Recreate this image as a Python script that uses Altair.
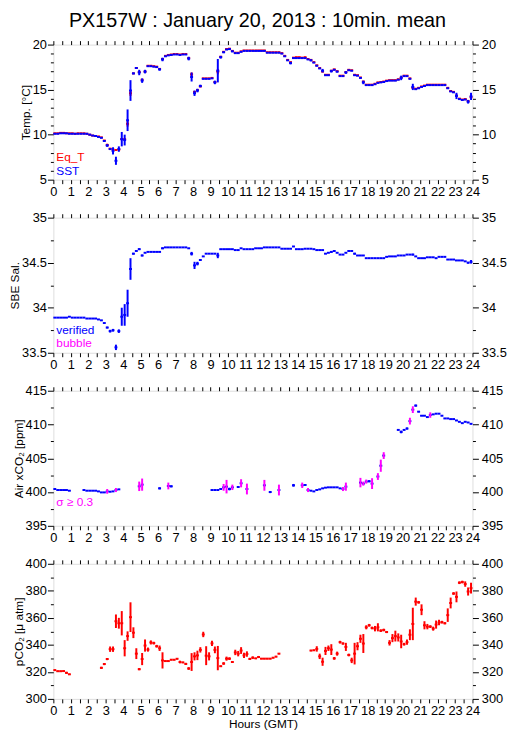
import altair as alt
import pandas as pd

TITLE = "PX157W : January 20, 2013 : 10min. mean"
FONT = "Liberation Sans"
RED, BLUE, MAGENTA = "#ff0000", "#0000ff", "#ff00ff"

# 10-minute bins, 6 per hour, 144 per day (None = no data)
eq_t = [
    10.15, 10.15, 10.2, 10.2, 10.15, 10.15,
    10.15, 10.1, 10.15, 10.15, 10.15, 10.1,
    10.0, 9.9, 9.85, 9.8, 9.7, 9.35,
    8.85, 8.45, 8.35, 8.3, 8.35, 9.5,
    9.5, 11.2, 14.6, 16.8, 17.4, 16.95,
    16.1, 17.0, 17.65, 17.65, 17.6, 17.55,
    17.3, 18.4, 18.75, 18.85, 18.9, 18.95,
    18.95, 18.9, 18.95, 18.95, 18.5, 16.7,
    14.75, 14.95, 15.35, 16.25, 16.25, 16.25,
    16.3, 15.85, 17.0, 18.65, 19.2, 19.5,
    19.55, 19.3, 19.1, 19.1, 19.25, 19.35,
    19.35, 19.35, 19.35, 19.35, 19.35, 19.35,
    19.35, 19.15, 19.15, 19.15, 19.15, 19.15,
    19.05, 18.75, 18.3, 18.05, 18.55, 18.6,
    18.6, 18.55, 18.6, 18.4, 18.3, 18.05,
    17.7, 17.4, 17.0, 16.65, 16.65, 17.1,
    17.25, 17.05, 16.55, 16.55, 16.95, 17.2,
    17.15, 16.65, 16.6, 16.35, 15.9, 15.55,
    15.55, 15.55, 15.65, 15.8, 15.85, 15.9,
    16.0, 16.05, 16.05, 16.05, 16.15, 16.35,
    16.55, 16.55, 16.25, 15.2, 15.1, 15.2,
    15.35, 15.45, 15.55, 15.55, 15.55, 15.55,
    15.55, 15.55, 15.55, 15.2, 14.85, 14.75,
    14.35, 14.0, 13.9, 13.95, 13.75, 14.15,
]
eq_t_err_bins = [18, 25, 26, 47, 56]
eq_t_err_vals = [0.15, 0.3, 0.3, 0.2, 0.3]

sst = [
    10.1, 10.1, 10.15, 10.15, 10.15, 10.1,
    10.1, 10.1, 10.1, 10.1, 10.1, 10.1,
    10.0, 9.9, 9.85, 9.75, 9.65, 9.3,
    8.8, 8.4, 8.2, 7.1, 8.4, 9.5,
    9.4, 11.6, 14.9, 16.8, 17.4, 16.9,
    16.0, 17.0, 17.6, 17.6, 17.55, 17.5,
    17.25, 18.35, 18.7, 18.8, 18.85, 18.9,
    18.9, 18.85, 18.9, 18.9, 18.45, 16.4,
    14.6, 14.9, 15.4, 16.2, 16.2, 16.2,
    16.25, 15.8, 17.1, 18.6, 19.15, 19.45,
    19.5, 19.25, 19.05, 19.05, 19.2, 19.3,
    19.3, 19.3, 19.3, 19.3, 19.3, 19.3,
    19.3, 19.1, 19.1, 19.1, 19.1, 19.1,
    19.0, 18.7, 18.25, 17.95, 18.5, 18.5,
    18.5, 18.5, 18.5, 18.35, 18.25, 18.0,
    17.65, 17.35, 17.1, 16.6, 16.6, 17.05,
    17.2, 17.0, 16.5, 16.5, 16.9, 17.15,
    17.1, 16.6, 16.55, 16.3, 15.8, 15.5,
    15.5, 15.5, 15.6, 15.75, 15.8, 15.85,
    15.95, 16.0, 16.0, 16.0, 16.1, 16.3,
    16.5, 16.5, 16.2, 15.3, 15.05, 15.15,
    15.3, 15.4, 15.5, 15.5, 15.5, 15.5,
    15.5, 15.5, 15.5, 15.15, 14.8, 14.7,
    14.3, 13.95, 13.85, 13.9, 13.65, 14.25,
]
sst_err_bins = [18, 20, 21, 22, 23, 24, 25, 26, 27, 29, 30, 31, 36, 37, 46, 47, 48, 49, 50,
                55, 56, 57, 58, 61, 81, 88, 92, 95, 97, 100, 106, 113, 119, 123, 138, 142, 143]
sst_err_vals = [0.15, 0.4, 0.45, 0.3, 0.8, 0.6, 1.2, 1.15, 0.1, 0.3, 0.25, 0.2, 0.15, 0.2, 0.2, 0.5, 0.3, 0.2, 0.15,
                0.2, 1.3, 0.15, 0.1, 0.1, 0.15, 0.1, 0.2, 0.15, 0.1, 0.15, 0.2, 0.1, 0.25, 0.35, 0.35, 0.2, 0.4]

sal = [
    33.89, 33.89, 33.89, 33.89, 33.89, 33.9,
    33.89, 33.89, 33.89, 33.89, 33.89, 33.88,
    33.88, 33.88, 33.88, 33.87, 33.86, 33.83,
    33.78, 33.74, 33.75, 33.56, 33.74, 33.9,
    33.92, 34.05, 34.43, 34.6, 34.63, 34.65,
    34.58, 34.61, 34.62, 34.62, 34.62, 34.62,
    34.62, 34.66, 34.67, 34.67, 34.67, 34.67,
    34.67, 34.67, 34.67, 34.67, 34.66, 34.6,
    34.47, 34.49, 34.53, 34.57, 34.6, 34.6,
    34.6, 34.6, 34.58, 34.65, 34.65, 34.65,
    34.65, 34.65, 34.64, 34.64, 34.66, 34.65,
    34.65, 34.65, 34.65, 34.66, 34.66, 34.66,
    34.67, 34.67, 34.67, 34.67, 34.67, 34.67,
    34.655, 34.655, 34.655, 34.655, 34.68, 34.65,
    34.65, 34.65, 34.655, 34.655, 34.655, 34.65,
    34.64, 34.64, 34.64, 34.6, 34.61, 34.62,
    34.63, 34.61, 34.59, 34.59, 34.61, 34.63,
    34.63, 34.6, 34.58, 34.58, 34.58, 34.55,
    34.55, 34.55, 34.55, 34.55, 34.55, 34.55,
    34.565, 34.57, 34.57, 34.57, 34.58, 34.58,
    34.58, 34.59, 34.59, 34.59, 34.57, 34.55,
    34.55, 34.55, 34.56, 34.56, 34.56, 34.55,
    34.565, 34.565, 34.565, 34.535, 34.535, 34.535,
    34.525, 34.525, 34.525, 34.515, 34.5, 34.51,
]
sal_err_bins = [18, 19, 20, 21, 22, 23, 24, 25, 26, 27, 29, 30, 37, 47, 48, 49, 56, 95, 103, 123, 142, 143]
sal_err_vals = [0.01, 0.015, 0.015, 0.03, 0.02, 0.1, 0.12, 0.15, 0.12, 0.01, 0.01, 0.01, 0.01, 0.02, 0.04,
                0.02, 0.03, 0.01, 0.01, 0.01, 0.01, 0.02]

xco2 = [
    400.45, 400.3, 400.3, 400.3, 400.3, 400.2,
    None, None, None, None, 400.3, 400.2,
    400.2, 400.2, 400.2, 400.1, 399.95, 399.95,
    400.1, 400.05, 400.1, 400.3, 400.4, None,
    None, None, None, None, None, 400.85,
    401.1, None, None, None, None, None,
    400.55, None, None, 400.9, 400.85, None,
    None, None, None, None, None, None,
    None, None, None, None, None, None,
    400.3, 400.3, 400.3, 400.45, 400.7, 400.8,
    400.45, 400.7, None, 400.75, 401.3, None,
    400.45, None, None, None, None, None,
    401.0, None, 400.0, None, None, 400.3,
    None, None, None, None, 401.0, None,
    None, 401.0, 401.05, 400.3, 400.2, 400.1,
    400.3, 400.4, 400.55, 400.65, 400.7, 400.7,
    400.7, 400.7, 400.55, 400.45, 400.8, None,
    None, None, None, 401.4, 401.25, 401.55,
    401.6, 401.25, None, 402.3, 403.9, 405.4,
    None, None, None, None, 409.2, 408.9,
    409.2, 409.4, 410.5, 412.2, 412.8, 411.9,
    411.3, 411.3, 411.1, 411.4, 411.5, 411.6,
    411.6, 411.3, 410.9, 410.9, 410.8, 410.8,
    410.6, 410.4, 410.2, 410.4, 410.3, 410.1,
]
xco2_err_bins = [18, 21, 29, 30, 36, 39, 40, 58, 59, 60, 61, 63, 64, 66, 72, 74, 77, 82, 85, 86, 87,
                 99, 100, 105, 106, 107, 108, 109, 111, 112, 113, 119, 121, 122, 123, 124, 125, 129]
xco2_err_vals = [0.35, 0.3, 0.7, 0.9, 0.15, 0.5, 0.15, 0.5, 1.0, 0.2, 0.4, 0.15, 0.6, 0.8, 0.8, 0.15, 0.8,
                 0.2, 0.4, 0.1, 0.3, 0.3, 0.6, 0.7, 0.3, 0.3, 0.15, 0.8, 0.5, 0.9, 0.5, 0.2, 0.15, 0.5,
                 0.5, 0.15, 0.1, 0.4]

pco2 = [
    321.3, 320.5, 320.5, 320.6, 319.3, 318.2,
    None, None, None, None, None, None,
    None, None, None, None, 323.0, 325.8,
    329.5, 336.8, 336.8, 357.5, 356.0, 356.0,
    337.5, 346.5, 360.5, 349.0, 333.5, 322.0,
    329.5, 339.5, 336.5, 341.8, 341.3, 339.0,
    337.5, 328.5, 328.0, 328.0, 329.0, 329.0,
    329.7, 327.3, 327.0, 325.9, 322.5, 327.3,
    331.5, 332.2, 336.3, 347.7, 332.0, 331.5,
    341.1, 336.3, 330.2, 324.2, 326.2, 329.8,
    329.8, 327.3, 334.4, 333.5, 335.8, 332.2,
    333.2, 329.6, 330.5, 330.0, 331.0, 329.8,
    329.8, 329.8, 329.8, 330.5, 331.3, 333.5,
    None, None, None, None, None, None,
    None, None, None, None, 335.8, 336.0,
    337.0, 331.5, 327.5, 335.5, 337.5, 336.5,
    330.0, 333.5, 342.0, 341.0, 338.5, 332.5,
    328.5, 333.5, 339.0, 344.5, 341.0, 353.0,
    354.5, 352.5, 352.0, 353.0, 350.5, 351.0,
    349.5, 341.5, 345.0, 346.5, 345.5, 342.5,
    340.5, 342.0, 347.5, 355.5, 372.0, 371.5,
    366.0, 354.5, 353.5, 353.5, 352.0, 355.0,
    356.5, 356.8, 356.0, 362.0, 371.0, 378.0,
    375.5, 386.0, 386.5, 385.0, 379.5, 382.0,
]
pco2_err_bins = [3, 4, 16, 17, 18, 19, 20, 21, 22, 23, 24, 25, 26, 27, 28, 29, 30, 31, 32, 33, 34, 35,
                 36, 37, 43, 45, 46, 47, 48, 49, 50, 51, 52, 53, 54, 55, 56, 58, 59, 60, 62, 63, 64,
                 65, 66, 67, 68, 70, 88, 89, 90, 91, 92, 93, 94, 95, 96, 97, 98, 99, 100, 101, 102,
                 103, 104, 105, 106, 107, 108, 109, 110, 111, 112, 113, 114, 115, 116, 117, 118,
                 119, 120, 121, 122, 123, 124, 125, 126, 127, 128, 129, 130, 131, 132, 133, 134,
                 135, 136, 137, 138, 139, 140, 141, 142, 143]
pco2_err_vals = [0.5, 0.8, 0.8, 0.8, 0.8, 2, 2, 5, 4, 9, 6, 3.5, 11, 4, 4, 0.8, 4.5, 4.5, 1.5, 1.5, 1, 1,
                 2, 6, 1, 0.8, 1, 6.6, 3, 3.5, 2, 2, 7, 3, 2, 2.5, 9, 1, 1.5, 1, 2, 2, 2.5,
                 2, 2, 0.8, 1, 0.8, 0.5, 0.5, 2, 2, 3, 3, 2, 4, 1, 1.5, 1, 0.8, 3, 1, 2,
                 8, 3, 3, 7, 1.5, 1, 1, 2, 3, 1, 1, 0.8, 2, 3, 4, 3,
                 5, 1, 2, 4, 12, 3, 1, 4, 3, 2, 1, 1.5, 3, 2, 1, 0.8,
                 5, 4, 1, 4, 1, 1, 2, 3, 4]

# axis tick values
HALF_HOURS = [h / 2 for h in range(49)]
temp_ticks = list(range(5, 21))
sal_ticks = [33.5 + 0.25 * k for k in range(7)]
xco2_ticks = [395 + 2.5 * k for k in range(9)]
pco2_ticks = list(range(300, 401, 10))

W, H = 425, 137
LAB = 13


def frame(vals, err_bins, err_vals, default_err):
    err = dict(zip(err_bins, err_vals))
    rows = []
    for i, v in enumerate(vals):
        if v is None:
            continue
        e = err.get(i, default_err)
        rows.append(dict(t0=i / 6, t1=(i + 1) / 6, tc=(i + 0.5) / 6, v=v, lo=v - e, hi=v + e, e=e))
    return pd.DataFrame(rows)


XS = alt.Scale(domain=[0, 24], nice=False, zero=False)


def xaxis(orient, title=None):
    d = dict(orient=orient, values=HALF_HOURS, tickSize=4, grid=False, domain=False,
             tickColor="black", labelColor="black", labelFont=FONT, labelFontSize=LAB,
             labelPadding=2, labelAngle=0, labelOverlap=False, labelFlush=False, labelBound=False,
             labelExpr="datum.value % 1 === 0 ? format(datum.value, 'd') : ''")
    if orient == "top":
        d["labels"] = False
    if title:
        d.update(title=title, titleFont=FONT, titleFontSize=12, titleFontWeight="normal",
                 titleColor="black", titlePadding=1)
    else:
        d["title"] = None
    return alt.Axis(**d)


def yaxis(orient, values, major, title=None):
    test = f"abs(datum.value / {major} - round(datum.value / {major})) < 0.000001"
    d = dict(orient=orient, values=values,
             tickSize={"condition": {"test": test, "value": 6}, "value": 3},
             grid=False, domain=False, tickColor="black", labelColor="black",
             labelFont=FONT, labelFontSize=LAB, labelOverlap=False, labelBound=False,
             labelPadding=1 if orient == "left" else 3,
             labelExpr=f"{test} ? format(datum.value, '') : ''")
    if title:
        d.update(title=title, titleFont=FONT, titleFontSize=12, titleFontWeight="normal",
                 titleColor="black", titlePadding=0)
    else:
        d["title"] = None
    return alt.Axis(**d)


def hseg(df, color, ys, xax=None, yax=None, width=2):
    return alt.Chart(df).mark_rule(color=color, strokeWidth=width).encode(
        x=alt.X("t0:Q", scale=XS, axis=xax), x2="t1:Q",
        y=alt.Y("v:Q", scale=ys, axis=yax))


def vbar(df, color, ys, xax=None, yax=None, width=2):
    return alt.Chart(df).mark_rule(color=color, strokeWidth=width).encode(
        x=alt.X("tc:Q", scale=XS, axis=xax),
        y=alt.Y("lo:Q", scale=ys, axis=yax), y2="hi:Q")


def legend(labels, colors, ys):
    out = []
    for lab, col, y in zip(labels, colors, ys):
        out.append(alt.Chart(pd.DataFrame({"label": [lab]})).mark_text(
            align="left", baseline="middle", font=FONT, fontSize=12, color=col
        ).encode(x=alt.value(3), y=alt.value(y), text="label:N"))
    return out


def panel(layers):
    return alt.layer(*layers).properties(width=W, height=H).resolve_axis(
        x="independent", y="independent")


# Panel 1: temperature
ys1 = alt.Scale(domain=[5, 20], nice=False, zero=False)
d_eq = frame(eq_t, eq_t_err_bins, eq_t_err_vals, 0.05)
d_sst = frame(sst, sst_err_bins, sst_err_vals, 0.05)
p1 = panel([
    hseg(d_eq, RED, ys1, xaxis("bottom"), yaxis("left", temp_ticks, 5, "Temp. [°C]")),
    vbar(d_eq, RED, ys1, xaxis("top"), yaxis("right", temp_ticks, 5)),
    hseg(d_sst, BLUE, ys1),
    vbar(d_sst, BLUE, ys1),
    *legend(["Eq_T", "SST"], [RED, BLUE], [H - 23, H - 9]),
])

# Panel 2: salinity
ys2 = alt.Scale(domain=[33.5, 35], nice=False, zero=False)
d_sal = frame(sal, sal_err_bins, sal_err_vals, 0.003)
p2 = panel([
    hseg(d_sal, BLUE, ys2, xaxis("bottom"), yaxis("left", sal_ticks, 0.5, "SBE Sal.")),
    vbar(d_sal, BLUE, ys2, xaxis("top"), yaxis("right", sal_ticks, 0.5)),
    *legend(["verified", "bubble"], [BLUE, MAGENTA], [H - 23, H - 10]),
])

# Panel 3: air xCO2
ys3 = alt.Scale(domain=[395, 415], nice=False, zero=False)
d_x = frame(xco2, xco2_err_bins, xco2_err_vals, 0.05)
d_x_lo = d_x[d_x["e"] < 0.3]
d_x_hi = d_x[d_x["e"] >= 0.3]
p3 = panel([
    hseg(d_x, BLUE, ys3, xaxis("bottom"), yaxis("left", xco2_ticks, 5, "Air xCO₂ [ppm]")),
    vbar(d_x_lo, BLUE, ys3, xaxis("top"), yaxis("right", xco2_ticks, 5)),
    vbar(d_x_hi, MAGENTA, ys3),
    *legend(["σ ≥ 0.3"], [MAGENTA], [H - 24]),
])

# Panel 4: pCO2
ys4 = alt.Scale(domain=[300, 400], nice=False, zero=False)
d_p = frame(pco2, pco2_err_bins, pco2_err_vals, 0.5)
p4 = panel([
    hseg(d_p, RED, ys4, xaxis("bottom", "Hours (GMT)"), yaxis("left", pco2_ticks, 20, "pCO₂ [μ atm]")),
    vbar(d_p, RED, ys4, xaxis("top"), yaxis("right", pco2_ticks, 20)),
])

chart = alt.vconcat(p1, p2, p3, p4, spacing=11.5).properties(
    title=alt.TitleParams(TITLE, font=FONT, fontSize=20, fontWeight="normal", color="black",
                          anchor="middle", offset=7),
    padding={"left": 0, "top": -2, "right": 0, "bottom": 0},
).configure_view(stroke="black", strokeWidth=1).configure(font=FONT)

chart.save("out.html", embed_options={"renderer": "svg", "actions": False})
